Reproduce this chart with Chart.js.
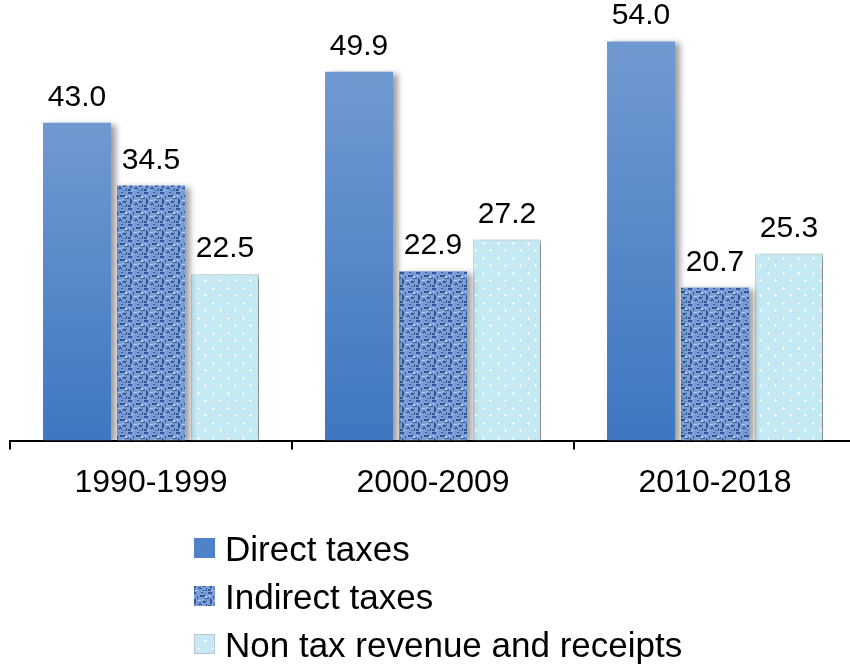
<!DOCTYPE html>
<html>
<head>
<meta charset="utf-8">
<script src="https://cdn.jsdelivr.net/npm/chart.js@4/dist/chart.umd.min.js"></script>
<style>
  html, body { margin: 0; padding: 0; background: #fff; overflow: hidden; }
  #wrap { width: 856px; height: 664px; position: relative; }
</style>
</head>
<body>
<div id="wrap"><canvas id="c"></canvas></div>
<script>
// Revenue shares (%) by decade
const periods = ['1990-1999', '2000-2009', '2010-2018'];
const directTaxes = [43.0, 49.9, 54.0];
const indirectTaxes = [34.5, 22.9, 20.7];
const nonTaxRevenue = [22.5, 27.2, 25.3];
const seriesNames = ['Direct taxes', 'Indirect taxes', 'Non tax revenue and receipts'];

const FONT = '"Liberation Sans", Arial, sans-serif';

// Woven fabric texture for indirect taxes
function wovenPattern() {
  const t = document.createElement('canvas');
  t.width = 16; t.height = 16;
  const g = t.getContext('2d');
  g.fillStyle = '#7A9FDB'; g.fillRect(0, 0, 16, 16);
  g.fillStyle = '#34558F';
  [[0,0,4,2],[8,3,5,2],[2,7,2,5],[11,9,4,2],[0,13,3,2],[9,0,2,1],[5,4,1,3],[13,6,3,1],[6,12,4,1],[14,12,1,3]]
    .forEach(r => g.fillRect(...r));
  g.fillStyle = '#5577B6';
  [[4,1,3,1],[0,5,2,2],[10,14,4,1],[7,10,2,2],[12,1,2,1]].forEach(r => g.fillRect(...r));
  g.fillStyle = '#B8D0F3';
  [[5,1,1,1],[13,4,2,2],[6,8,3,1],[1,3,1,2],[10,7,1,1],[3,14,2,1],[14,10,1,1]].forEach(r => g.fillRect(...r));
  return g.createPattern(t, 'repeat');
}

// Light dotted texture for non tax revenue
function dottedPattern() {
  const t = document.createElement('canvas');
  t.width = 15; t.height = 15;
  const g = t.getContext('2d');
  g.fillStyle = '#CDEEF7'; g.fillRect(0, 0, 15, 15);
  g.fillStyle = '#BDE5F1';
  for (let y = 0; y < 15; y++) for (let x = 0; x < 15; x++) if ((x + y) % 2 === 0) g.fillRect(x, y, 1, 1);
  g.fillStyle = '#FFFFFF';
  const dot = (x, y) => { g.fillRect(x - 1, y, 3, 1); g.fillRect(x, y - 1, 1, 3); };
  dot(3, 3); dot(10, 10);
  return g.createPattern(t, 'repeat');
}

const woven = wovenPattern();
const dotted = dottedPattern();

function directFill(ctx) {
  const chart = ctx.chart;
  if (!chart.chartArea || ctx.raw === undefined) return '#4F81C5';
  const y = chart.scales.y;
  const top = y.getPixelForValue(ctx.raw);
  const base = y.getPixelForValue(0);
  const gr = chart.ctx.createLinearGradient(0, top, 0, base);
  gr.addColorStop(0, '#7099D1');
  gr.addColorStop(1, '#3F77C0');
  return gr;
}

// Soft drop shadow behind the bars
const barShadow = {
  id: 'barShadow',
  beforeDatasetsDraw(chart) {
    const c = chart.ctx;
    c.save();
    c.shadowColor = 'rgba(0,0,0,0.38)';
    c.shadowBlur = 6;
    c.shadowOffsetX = 5;
    c.shadowOffsetY = 2;
  },
  afterDatasetsDraw(chart) { chart.ctx.restore(); }
};

// Value labels above bars and a stacked legend under the axis
const annotate = {
  id: 'annotate',
  afterDraw(chart) {
    const c = chart.ctx;
    c.save();
    c.fillStyle = '#000';
    c.font = '30px ' + FONT;
    c.textAlign = 'center';
    c.textBaseline = 'alphabetic';
    chart.data.datasets.forEach((ds, i) => {
      chart.getDatasetMeta(i).data.forEach((bar, j) => {
        c.fillText(ds.data[j].toFixed(1), bar.x, bar.y - 17);
      });
    });
    const baselines = [561, 609, 657];
    c.textAlign = 'left';
    c.font = '35px ' + FONT;
    chart.data.datasets.forEach((ds, i) => {
      const b = baselines[i];
      const bx = 194, by = b - 23, bw = 21, bh = 20;
      c.fillStyle = ds.legendFill;
      c.fillRect(bx, by, bw, bh);
      if (ds.borderWidth) {
        c.strokeStyle = '#BCC6CA';
        c.lineWidth = 1;
        c.strokeRect(bx + 0.5, by + 0.5, bw - 1, bh - 1);
      }
      c.fillStyle = '#000';
      c.fillText(ds.label, 225, b);
    });
    c.restore();
  }
};

new Chart(document.getElementById('c'), {
  type: 'bar',
  data: {
    labels: periods,
    datasets: [
      { label: seriesNames[0], data: directTaxes, backgroundColor: directFill, borderWidth: 0, legendFill: '#4F82C8' },
      { label: seriesNames[1], data: indirectTaxes, backgroundColor: woven, borderWidth: 0, legendFill: woven },
      { label: seriesNames[2], data: nonTaxRevenue, backgroundColor: dotted, borderColor: '#C9D5D9', borderWidth: 1, legendFill: dotted }
    ]
  },
  options: {
    responsive: true,
    maintainAspectRatio: false,
    animation: false,
    layout: { padding: { left: 10, right: 0, top: 0, bottom: 148 } },
    datasets: { bar: { categoryPercentage: 0.787, barPercentage: 0.919 } },
    plugins: { legend: { display: false }, tooltip: { enabled: false } },
    scales: {
      x: {
        offset: true,
        grid: { offset: true, drawOnChartArea: false, drawTicks: true, tickLength: 9, color: '#000', lineWidth: 2 },
        border: { display: true, color: '#000', width: 2 },
        ticks: { color: '#000', font: { family: FONT, size: 32 }, padding: 14 }
      },
      y: { display: false, min: 0, max: 59.6 }
    }
  },
  plugins: [barShadow, annotate]
});
</script>
</body>
</html>
